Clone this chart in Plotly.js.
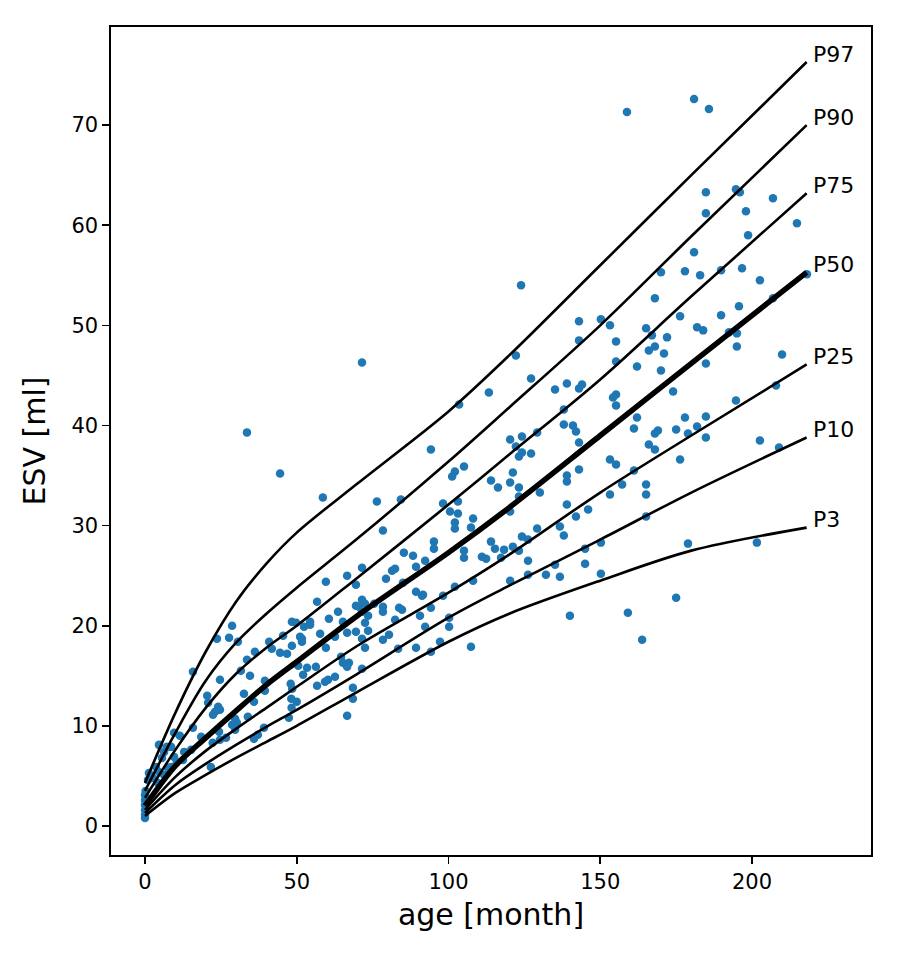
<!DOCTYPE html>
<html>
<head>
<meta charset="utf-8">
<script src="https://cdn.plot.ly/plotly-3.0.1.min.js"></script>
<style>html,body{margin:0;padding:0;background:#fff;}#chart{width:900px;height:957px;}</style>
</head>
<body>
<div id="chart"></div>
<script>
// ---- percentile curves (age in months -> ESV ml) ----
const curveAge = [0, 10, 20, 30, 40, 50, 70, 100, 120, 150, 180, 218];
const p97 = [4.3, 11.3, 17.4, 22.4, 26.2, 29.3, 34.2, 41.4, 47.0, 56.0, 65.0, 76.3];
const p90 = [3.5, 9.3, 14.5, 18.3, 21.2, 23.8, 28.7, 36.4, 41.8, 50.0, 58.9, 70.0];
const p75 = [2.8, 7.6, 11.8, 15.2, 17.8, 20.0, 24.8, 32.1, 37.1, 44.6, 52.9, 63.2];
const p50 = [2.0, 6.0, 8.8, 11.5, 14.1, 16.4, 21.0, 27.3, 31.8, 39.0, 46.2, 55.3];
const p25 = [1.6, 4.9, 7.5, 9.7, 11.8, 13.9, 18.0, 23.3, 27.1, 33.3, 39.0, 46.1];
const p10 = [1.3, 4.1, 6.2, 8.1, 9.9, 11.6, 15.2, 20.8, 24.0, 28.6, 33.3, 38.8];
const p3  = [1.0, 3.3, 5.1, 6.8, 8.4, 10.0, 13.4, 18.4, 21.2, 24.5, 27.5, 29.8];
const curveNames = ["P97", "P90", "P75", "P50", "P25", "P10", "P3"];

// ---- measured subjects ----
const ageMonths = [
 0,0,0,0,0,0,0.2,
 1.0,1.3,2.6,3.6,4.6,4.3,6.3,7.6,8.6,5.6,6.3,9.6,10.5,12.9,15.2,12.5,4.6,7.2,8.6,11.5,9.6,15.8,18.5,21.7,24.4,24.7,26.7,37.2,35.9,39.2,29.7,30.3,28.7,29.7,33.9,24.1,23.1,24.7,22.4,20.8,35.9,32.6,39.5,39.5,24.7,34.6,31.6,15.8,20.5,22.3,
 33.6,44.5,28.7,23.7,27.7,30.6,48.4,49.8,45.5,51.7,51.7,40.9,41.8,36.2,48.4,44.5,46.8,33.6,
 50.5,48.0,48.5,48.2,50.0,48.3,
 58.6,76.4,84.3,78.4,85.3,88.3,89.3,71.5,82.4,81.4,66.6,79.4,59.6,69.5,85.0,89.3,91.3,56.7,71.5,69.5,70.5,72.5,71.5,75.5,78.4,78.4,63.6,60.6,73.5,72.5,83.7,84.7,82.4,65.2,54.4,52.4,54.4,51.1,57.7,62.6,66.6,69.5,73.5,78.4,80.4,71.5,72.5,59.6,89.3,83.4,64.6,65.2,67.2,66.6,71.5,53.4,56.3,52.1,60.3,62.6,59.3,56.7,68.5,68.5,66.6,47.4,71.5,
 122.2,127.2,113.3,103.5,135.1,94.2,120.3,122.2,124.2,123.2,124.2,127.2,129.2,105.1,101.2,102.1,114.0,116.3,120.3,121.2,123.2,123.2,130.1,98.2,103.1,100.5,103.1,102.1,102.1,108.1,107.4,120.3,95.2,95.2,92.3,105.1,105.1,111.0,112.4,114.0,115.3,117.3,118.3,121.2,123.2,124.2,126.2,126.2,129.2,108.1,120.3,126.2,132.1,135.1,102.1,98.2,91.6,94.2,90.6,100.2,100.2,92.3,97.2,94.2,107.4,123.9,
 170.0,168.0,143.0,150.2,153.2,165.1,167.0,172.0,143.0,155.2,168.0,166.0,171.0,155.2,162.1,170.0,139.0,143.0,144.0,174.0,155.2,154.2,155.2,138.0,138.0,141.0,142.0,143.0,162.1,161.1,169.0,168.0,175.0,166.0,168.0,139.0,139.0,143.0,153.2,155.2,161.1,157.2,165.1,165.1,153.2,139.0,146.0,142.0,136.7,138.0,165.1,150.2,145.0,145.0,150.2,136.7,175.0,140.0,159.1,163.8,
 180.9,185.8,158.8,184.8,194.7,196.0,206.9,184.8,198.0,214.8,198.7,180.9,177.9,182.9,189.8,196.7,202.6,218.1,176.3,189.8,195.7,206.9,181.9,183.9,192.4,195.0,195.0,209.9,184.8,207.9,194.7,177.9,184.8,181.9,178.9,184.8,176.3,202.6,208.9,178.9,201.6
];
const esvMl = [
 0.8,1.1,1.6,2.1,2.6,3.1,3.5,
 4.6,5.3,4.8,5.9,5.4,4.3,5.1,5.8,5.9,6.8,7.4,6.9,6.4,7.4,7.6,6.6,8.1,7.9,7.9,9.0,9.3,9.8,8.9,5.9,9.4,8.6,8.8,9.1,8.7,9.8,10.7,10.3,10.1,9.6,10.9,11.9,11.4,11.6,11.1,12.3,12.4,13.2,13.5,14.5,14.6,15.0,15.5,15.4,13.0,8.3,
 39.3,35.2,20.0,18.7,18.8,18.4,20.4,20.3,19.0,18.7,18.4,18.4,17.7,17.4,18.0,17.3,17.2,16.6,
 16.0,14.2,13.7,12.7,12.4,11.8,
 32.8,32.4,32.6,29.5,27.3,27.0,25.9,25.8,25.7,25.5,25.0,24.7,24.4,24.1,24.3,23.4,23.0,22.4,22.6,22.0,21.9,22.2,21.4,22.2,21.9,21.4,21.4,20.7,21.0,20.3,21.8,21.6,20.6,20.4,20.4,19.9,20.1,18.9,19.2,18.9,19.3,19.4,19.5,18.6,19.1,18.7,17.8,17.8,17.8,17.7,16.9,16.3,16.3,15.9,15.7,15.8,15.9,15.1,14.6,14.9,14.4,14.0,13.8,12.7,11.0,10.8,46.3,
 47.0,44.7,43.3,42.1,43.6,37.6,38.6,37.9,38.9,36.9,37.3,37.2,39.3,35.9,34.9,35.4,34.5,33.8,34.3,35.3,33.8,32.9,33.3,32.2,32.4,31.4,31.2,30.3,29.7,30.7,29.8,31.4,28.4,27.7,26.5,27.5,26.8,26.9,26.7,28.4,27.7,26.8,27.6,27.9,27.5,28.9,28.6,26.5,29.7,24.5,24.5,25.1,25.1,26.1,23.9,23.0,23.1,21.8,21.0,20.8,19.9,19.9,18.4,17.4,17.9,54.0,
 55.3,52.7,50.4,50.6,50.0,49.7,49.0,48.8,48.5,48.4,47.9,47.5,47.2,46.4,45.9,45.5,44.2,43.7,44.1,43.4,43.1,42.8,42.0,41.6,40.1,40.0,39.4,38.3,40.8,39.7,39.5,39.2,39.6,38.1,37.6,35.0,34.4,35.6,36.6,36.1,35.5,34.1,34.1,33.1,33.1,32.1,31.6,30.9,29.9,29.0,30.9,28.3,27.7,26.2,25.2,24.9,22.8,21.0,21.3,18.6,
 72.6,71.6,71.3,63.3,63.6,63.3,62.7,61.2,61.4,60.2,59.0,57.3,55.4,55.0,55.5,55.7,54.5,55.1,50.9,51.0,51.9,52.7,49.8,49.5,49.3,49.2,47.9,47.1,46.2,44.0,42.5,40.8,40.9,39.9,39.2,38.8,36.6,38.5,37.8,28.2,28.3
];

const curves = [p97, p90, p75, p50, p25, p10, p3];
const FONT = "DejaVu Sans, Liberation Sans, sans-serif";

const traces = [{
  type: "scatter", mode: "markers", x: ageMonths, y: esvMl,
  marker: {color: "#1f77b4", size: 8.5, line: {width: 0}},
  hoverinfo: "skip", showlegend: false
}];
const annotations = [];
curves.forEach((c, i) => {
  const isMedian = curveNames[i] === "P50";
  traces.push({
    type: "scatter", mode: "lines", x: curveAge, y: c,
    line: {color: "black", width: isMedian ? 5.5 : 2.6, shape: "spline", smoothing: 0.9},
    hoverinfo: "skip", showlegend: false
  });
  annotations.push({
    x: curveAge[curveAge.length - 1], y: c[c.length - 1],
    xref: "x", yref: "y", text: curveNames[i], showarrow: false,
    xanchor: "left", yanchor: "middle", xshift: 4, yshift: 8,
    font: {family: FONT, size: 22, color: "black"}
  });
});

const layout = {
  width: 900, height: 957,
  margin: {l: 111, r: 29, t: 27, b: 102},
  paper_bgcolor: "white", plot_bgcolor: "white",
  showlegend: false,
  font: {family: FONT, color: "black"},
  xaxis: {
    range: [-11.2, 239.2], tickvals: [0, 50, 100, 150, 200],
    ticks: "outside", ticklen: 7, tickwidth: 1.6, tickcolor: "black",
    showline: true, mirror: true, linecolor: "black", linewidth: 1.6,
    showgrid: false, zeroline: false,
    tickfont: {family: FONT, size: 21, color: "black"},
    title: {text: "age [month]", font: {family: FONT, size: 30, color: "black"}, standoff: 11}
  },
  yaxis: {
    range: [-2.9, 79.8], tickvals: [0, 10, 20, 30, 40, 50, 60, 70],
    ticks: "outside", ticklen: 7, tickwidth: 1.6, tickcolor: "black",
    showline: true, mirror: true, linecolor: "black", linewidth: 1.6,
    showgrid: false, zeroline: false,
    tickfont: {family: FONT, size: 21, color: "black"},
    title: {text: "ESV [ml]", font: {family: FONT, size: 30, color: "black"}, standoff: 17}
  },
  annotations: annotations
};

Plotly.newPlot("chart", traces, layout, {displayModeBar: false, staticPlot: true});
</script>
</body>
</html>
